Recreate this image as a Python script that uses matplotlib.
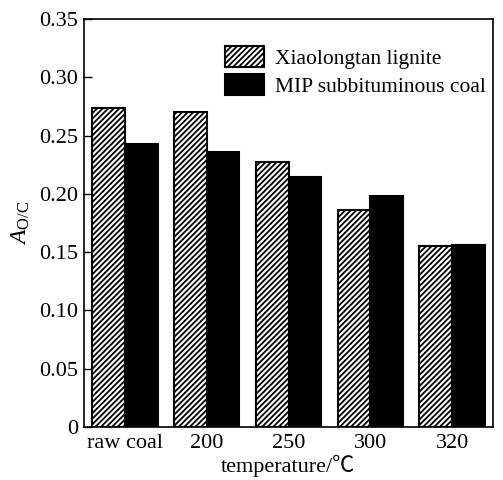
import numpy as np
import matplotlib
matplotlib.use('Agg')
import matplotlib.pyplot as plt

plt.rcParams['font.family'] = ['Liberation Serif', 'Noto Sans CJK SC']
plt.rcParams['mathtext.fontset'] = 'custom'
plt.rcParams['mathtext.rm'] = 'Liberation Serif'
plt.rcParams['mathtext.it'] = 'Liberation Serif:italic'
plt.rcParams['hatch.linewidth'] = 1.3

# Dados
categorias = ['raw coal', '200', '250', '300', '320']
xiaolongtan = [0.274, 0.2705, 0.227, 0.186, 0.155]
mip = [0.2425, 0.236, 0.2145, 0.198, 0.156]
y_ticks = [0, 0.05, 0.10, 0.15, 0.20, 0.25, 0.30, 0.35]
y_labels = ['0', '0.05', '0.10', '0.15', '0.20', '0.25', '0.30', '0.35']

x = np.arange(len(categorias))
w = 0.4

fig = plt.figure(figsize=(5.03, 4.8), dpi=100)
ax = fig.add_axes([84 / 503, 1 - 427 / 480, 409 / 503, 408 / 480])

ax.bar(x - w / 2, xiaolongtan, w, facecolor='white', edgecolor='black',
       hatch='//////', linewidth=1.5, label='Xiaolongtan lignite')
ax.bar(x + w / 2, mip, w, color='black', edgecolor='black', linewidth=1.5,
       label='MIP subbituminous coal')

ax.set_xlim(-0.5, 4.5)
ax.set_ylim(0, 0.35)
ax.set_xticks(x)
ax.set_xticklabels(categorias, fontsize=16)
ax.set_yticks(y_ticks)
ax.set_yticklabels(y_labels, fontsize=16)
ax.tick_params(axis='y', direction='in', length=6, width=1, pad=4)
ax.tick_params(axis='x', length=0, pad=5)
for s in ax.spines.values():
    s.set_linewidth(1.2)

ax.set_xlabel('temperature/\u2103', fontsize=16, labelpad=1)
ax.set_ylabel(r'$\mathit{A}_{\mathrm{O/C}}$', fontsize=17, labelpad=5)

ax.legend(loc='upper right', bbox_to_anchor=(1.015, 0.965), frameon=False, fontsize=15.5,
          handlelength=1.8, handleheight=1.1, labelspacing=0.25, handletextpad=0.55,
          borderaxespad=0.2)

plt.savefig('out.png', dpi=100)
